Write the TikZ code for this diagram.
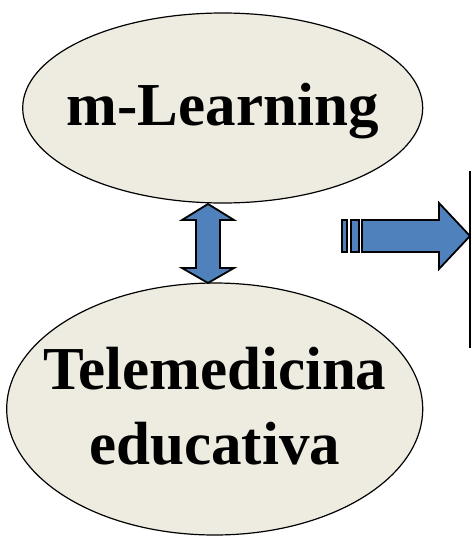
\documentclass[tikz,border=0pt]{standalone}
\usepackage{fontspec}
\setmainfont{Liberation Serif}
\usepackage{tikz}
\usetikzlibrary{shapes.geometric}
\definecolor{paper}{HTML}{EEECE1}
\definecolor{office}{HTML}{4F81BD}
\tikzset{%
  % Specifications for style of nodes:
          bubble/.style = {ellipse, draw=black, line width=1.2pt, fill=paper,
                           inner sep=0pt},
            word/.style = {inner sep=0pt, align=center, text=black,
                           font=\fontsize{61}{75}\selectfont\bfseries},
       blockarrow/.style = {draw=black, line width=1.8pt, fill=office,
                           line join=miter},
}

\begin{document}
\begin{tikzpicture}[x=1pt, y=-1pt]
  \useasboundingbox (0,0) rectangle (471,536);
  % Specification of nodes (position, etc.)
  \node (mlearn)	[bubble, minimum width=400pt, minimum height=190pt]
                     at (222.7,108) {};
  \node (tele)		[bubble, minimum width=416pt, minimum height=252pt]
                     at (214.7,409) {};
  \node (mltext)	[word, anchor=base] at ([yshift=-17pt] mlearn.center)
                     {m-Learning};
  \node (teletext)	[word] at ([yshift=2.5pt] tele.center)
                     {Telemedicina\\educativa};

  \coordinate (dtip) at (208,204);
  \coordinate (tail) at (362,220);

  % double arrow between the two ellipses
  \draw[blockarrow]	(dtip) -- ++(26,16) -- ++(-14,0) -- ++(0,48) -- ++(14,0)
                    -- ++(-26,15) -- ++(-26,-15) -- ++(14,0) -- ++(0,-48)
                    -- ++(-14,0) -- cycle;

  % arrow to the right
  \draw[blockarrow]	(tail) -- ++(77,0) -- ++(0,-17) -- ++(31,33) -- ++(-31,33)
                    -- ++(0,-17) -- ++(-77,0) -- cycle;
  \draw[blockarrow]	(tail)++(-19.7,0) rectangle ++(5,32);
  \draw[blockarrow]	(tail)++(-11.3,0) rectangle ++(8.6,32);

  \draw[line width=1.6pt]	(470.2,171) -- (470.2,348);
\end{tikzpicture}
\end{document}
